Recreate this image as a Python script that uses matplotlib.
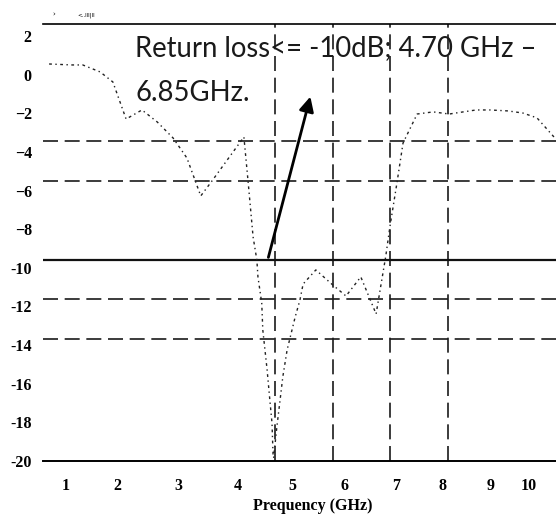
import matplotlib.pyplot as plt
import numpy as np

# measured curve (frequency in GHz, return loss in dB)
freq = [0.67, 1.12, 1.33, 1.67, 1.92, 2.15, 2.41, 2.66, 2.92, 3.15, 3.38, 3.58,
        4.11, 4.19, 4.28, 4.35, 4.37, 4.44, 4.46, 4.54, 4.59, 4.63, 4.65, 4.66,
        4.72, 4.78, 4.83, 4.91, 4.96, 5.06, 5.15, 5.21, 5.45, 5.77, 6.02, 6.31,
        6.61, 6.80, 6.88, 7.02, 7.15, 7.45, 7.79, 8.13, 8.42, 8.69, 8.98, 9.45,
        9.84, 10.21, 10.68]
s11 = [0.55, 0.50, 0.50, 0.14, -0.38, -2.30, -1.83, -2.45, -3.28, -4.32, -6.28, -5.45,
       -3.23, -5.61, -8.40, -9.60, -10.47, -11.82, -13.22, -15.29, -16.84, -18.03, -19.69, -19.84,
       -18.24, -16.84, -15.65, -14.25, -13.68, -12.55, -11.67, -10.84, -10.11, -10.89, -11.46, -10.47,
       -12.39, -9.39, -7.89, -5.61, -3.54, -2.04, -1.93, -2.04, -1.93, -1.83, -1.83, -1.88,
       -1.99, -2.24, -3.28]

hlines = [-3.44, -5.51, -11.61, -13.68]
vlines = [4.69, 5.77, 6.88, 8.10]
limit_db = -9.6

yticks = [2, 0, -2, -4, -6, -8, -10, -12, -14, -16, -18, -20]
ylabels = ['2', '0', '\u22122', '\u22124', '\u22126', '\u22128',
           '-10', '-12', '-14', '-16', '-18', '-20']
xticks = [1, 2, 3, 4, 5, 6, 7, 8, 9, 10]

# the scanned frequency axis is not evenly spaced, map it piecewise
knot_f = np.array([0, 1, 2, 3, 4, 5, 6, 7, 8, 9, 10, 11], dtype=float)
knot_u = np.array([15, 66, 117, 178, 238, 292, 345, 396, 443, 491, 529, 567], dtype=float)

def fwd(x):
    return np.interp(x, knot_f, knot_u)

def inv(u):
    return np.interp(u, knot_u, knot_f)

fig = plt.figure(figsize=(5.56, 5.16), dpi=100)
ax = fig.add_axes([0.0773, 0.1066, 0.9227, 0.8469])
ax.set_xscale('function', functions=(fwd, inv))
ax.set_xlim(0.55, 10.71)
ax.set_ylim(-20, 2.62)

dash = (0, (9, 4))
for y in hlines:
    ax.axhline(y, color='#1a1a1a', lw=1.2, linestyle=dash)
for x in vlines:
    ax.axvline(x, color='#1a1a1a', lw=1.2, linestyle=dash)
ax.axhline(limit_db, color='#111111', lw=1.6)

ax.plot(freq, s11, color='#222222', lw=1.0, linestyle=(0, (2, 2.5, 1, 2.5)))

ax.annotate('', xy=(5.36, -1.0), xytext=(4.55, limit_db),
            arrowprops=dict(arrowstyle='-|>', lw=2, color='black', mutation_scale=22))

ax.text(2.30, 1.38, 'Return loss<= -10dB; 4.70 GHz \u2013', fontsize=19.8,
        family='Lato', va='center', ha='left', color='#1a1a1a')
ax.text(2.30, -0.95, '6.85GHz.', fontsize=19.8,
        family='Lato', va='center', ha='left', color='#1a1a1a')

fig.text(0.095, 0.968, '\u203a', fontsize=5)
fig.text(0.14, 0.968, '<..lll|ll', fontsize=4)

ax.set_yticks(yticks)
ax.set_yticklabels(ylabels, family='Liberation Serif', fontweight='bold', fontsize=11.5)
ax.set_xticks(xticks)
ax.set_xticklabels([str(t) for t in xticks], family='Liberation Serif',
                   fontweight='bold', fontsize=11.5)
ax.xaxis.set_minor_locator(plt.NullLocator())
ax.tick_params(axis='both', length=0)
ax.tick_params(axis='x', pad=12)
ax.tick_params(axis='y', pad=8)
ax.set_xlabel('Prequency (GHz)', family='Liberation Serif', fontweight='bold', fontsize=11.5)
ax.xaxis.set_label_coords(0.526, -0.085)

ax.spines['left'].set_visible(False)
ax.spines['right'].set_visible(False)
ax.spines['top'].set_linewidth(1.2)
ax.spines['bottom'].set_linewidth(1.4)

fig.savefig('out.png', dpi=100)
